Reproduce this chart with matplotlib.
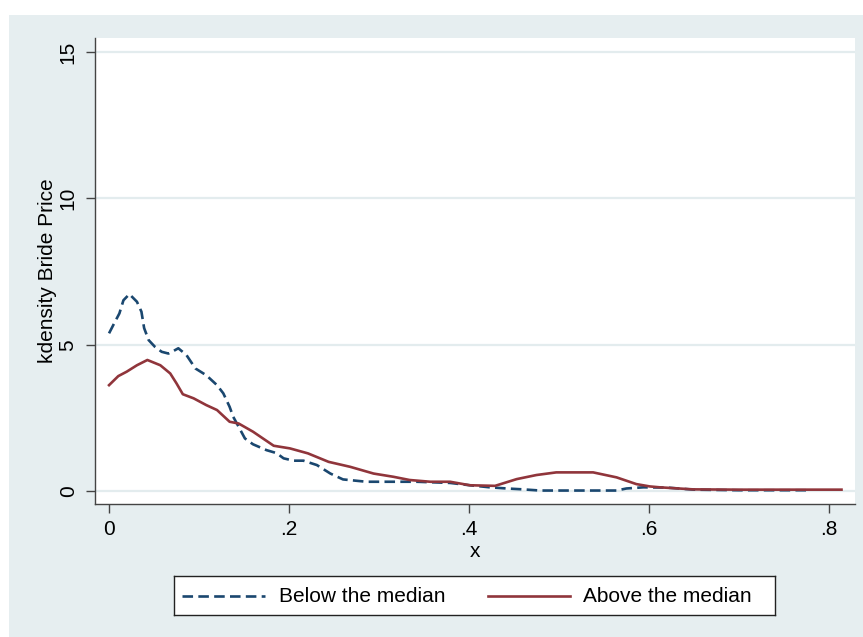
import matplotlib
matplotlib.use("Agg")
import matplotlib.pyplot as plt
from matplotlib.lines import Line2D

# Data
below_x = [0.0, 0.006, 0.0115, 0.016, 0.0226, 0.031, 0.036, 0.039, 0.044, 0.051, 0.0585, 0.066,
           0.070, 0.077, 0.086, 0.096, 0.108, 0.12, 0.127, 0.134, 0.138, 0.144, 0.151, 0.16,
           0.175, 0.186, 0.194, 0.205, 0.216, 0.231, 0.246, 0.26, 0.286, 0.342, 0.379, 0.401,
           0.423, 0.442, 0.46, 0.479, 0.564, 0.575, 0.594, 0.62, 0.65, 0.70, 0.75, 0.78]
below_y = [5.39, 5.75, 6.07, 6.52, 6.73, 6.47, 6.13, 5.57, 5.16, 4.93, 4.76, 4.70,
           4.76, 4.88, 4.65, 4.19, 3.96, 3.62, 3.34, 2.88, 2.54, 2.20, 1.80, 1.60,
           1.40, 1.30, 1.12, 1.04, 1.04, 0.89, 0.60, 0.40, 0.32, 0.32, 0.28, 0.20,
           0.13, 0.09, 0.06, 0.02, 0.02, 0.09, 0.13, 0.12, 0.05, 0.03, 0.03, 0.03]

above_x = [0.0, 0.0103, 0.0196, 0.031, 0.0426, 0.057, 0.068, 0.075, 0.082, 0.094, 0.108, 0.12,
           0.134, 0.144, 0.16, 0.171, 0.183, 0.201, 0.221, 0.244, 0.268, 0.294, 0.316, 0.334,
           0.357, 0.379, 0.401, 0.429, 0.453, 0.475, 0.497, 0.538, 0.564, 0.586, 0.601, 0.612,
           0.649, 0.70, 0.75, 0.814]
above_y = [3.62, 3.93, 4.08, 4.30, 4.48, 4.30, 4.02, 3.68, 3.31, 3.17, 2.94, 2.77,
           2.37, 2.31, 2.03, 1.80, 1.55, 1.46, 1.29, 1.00, 0.83, 0.60, 0.49, 0.38,
           0.32, 0.32, 0.20, 0.18, 0.41, 0.55, 0.64, 0.64, 0.47, 0.24, 0.16, 0.13,
           0.06, 0.05, 0.05, 0.05]

x_ticks = [0, 0.2, 0.4, 0.6, 0.8]
x_tick_labels = ["0", ".2", ".4", ".6", ".8"]
y_ticks = [0, 5, 10, 15]
y_tick_labels = ["0", "5", "10", "15"]
series_labels = ["Below the median", "Above the median"]

BLUE = "#1A476F"
RED = "#90353B"
BG = "#E6EEF0"
GRID = "#E3ECEE"
FONT = "Liberation Sans"

W, H = 863, 637
fig = plt.figure(figsize=(W / 100, H / 100), dpi=100)
fig.patch.set_facecolor("white")

bg_ax = fig.add_axes([9 / W, 0, 1 - 9 / W, 1 - 15 / H], zorder=-5)
bg_ax.set_facecolor(BG)
bg_ax.set_xticks([])
bg_ax.set_yticks([])
for s in bg_ax.spines.values():
    s.set_visible(False)

ax = fig.add_axes([95 / W, (H - 504) / H, (855 - 95) / W, (504 - 38) / H], zorder=1)
ax.set_facecolor("white")
ax.set_xlim(-0.0156, 0.829)
ax.set_ylim(-0.44, 15.48)

ax.plot(below_x, below_y, color=BLUE, lw=1.9, dashes=(4, 2), zorder=3)
ax.plot(above_x, above_y, color=RED, lw=1.9, zorder=3)

for yv in y_ticks:
    ax.axhline(yv, color=GRID, lw=1.6, zorder=1)

for s in ["top", "right"]:
    ax.spines[s].set_visible(False)
for s in ["left", "bottom"]:
    ax.spines[s].set_color("#444444")
    ax.spines[s].set_linewidth(1.0)

ax.set_xticks(x_ticks)
ax.set_xticklabels(x_tick_labels, fontfamily=FONT, fontsize=15)
ax.set_yticks(y_ticks)
ax.set_yticklabels(y_tick_labels, fontfamily=FONT, fontsize=15, rotation=90, va="center")
ax.tick_params(axis="both", direction="out", length=6.5, width=1.0, color="#444444", pad=5)
ax.tick_params(axis="y", pad=6)

ax.set_xlabel("x", fontfamily=FONT, fontsize=15, labelpad=2)
ax.set_ylabel("kdensity Bride Price", fontfamily=FONT, fontsize=15, labelpad=1)

# Legend box
leg_ax = fig.add_axes([174 / W, (H - 615) / H, (775 - 174) / W, (615 - 576) / H], zorder=2)
leg_ax.set_xlim(174, 775)
leg_ax.set_ylim(615, 576)
leg_ax.set_facecolor("white")
leg_ax.set_xticks([])
leg_ax.set_yticks([])
for s in leg_ax.spines.values():
    s.set_color("#222222")
    s.set_linewidth(1.0)
ym = 596
leg_ax.add_line(Line2D([182, 265], [ym, ym], color=BLUE, lw=1.9, dashes=(4, 2)))
leg_ax.text(279, ym, series_labels[0], fontfamily=FONT, fontsize=15, va="center", ha="left")
leg_ax.add_line(Line2D([488, 570], [ym, ym], color=RED, lw=1.9))
leg_ax.text(583, ym, series_labels[1], fontfamily=FONT, fontsize=15, va="center", ha="left")

fig.savefig("out.png", dpi=100)
